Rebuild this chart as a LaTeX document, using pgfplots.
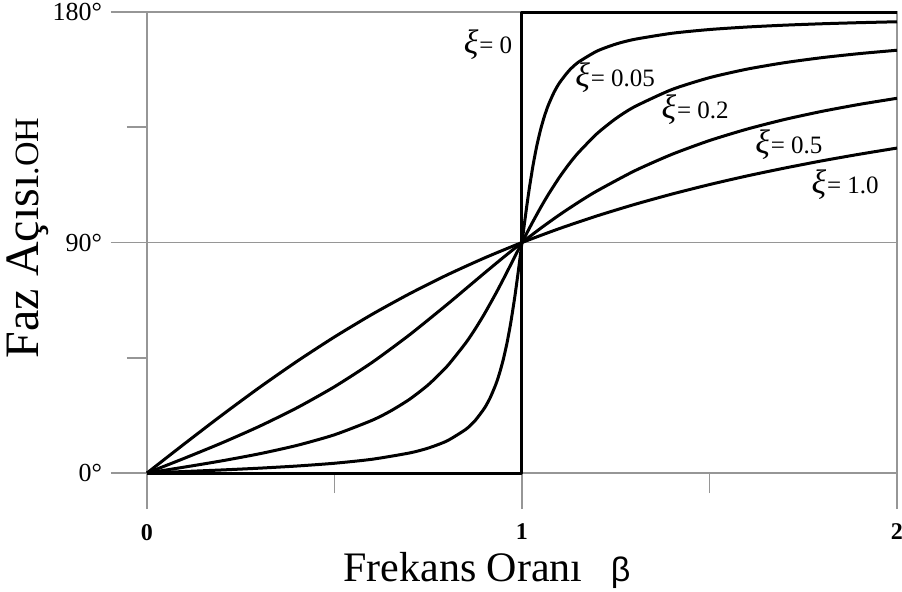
\documentclass[border=0pt]{standalone}
\usepackage{fontspec}
\setmainfont{Liberation Serif}
\newfontfamily\betafont{Liberation Sans}
\usepackage{pgfplots}
\pgfplotsset{compat=1.18}

\definecolor{gridgray}{RGB}{150,150,150}

% damping-ratio label: large italic xi followed by "= value"
\newcommand{\xilab}[1]{{\fontsize{17}{17}\selectfont\itshape ξ}\kern0.5pt{\fontsize{12.5}{12.5}\selectfont= #1}}

\tikzset{curve/.style={black, line width=1.5pt, line join=round, no marks}}

\begin{document}
\begin{tikzpicture}
\path[use as bounding box] (-73.5pt,-59pt) rectangle (377.5pt,236.5pt);
\begin{axis}[
  at={(0,0)}, anchor=origin,
  scale only axis, width=375pt, height=230.5pt,
  xmin=0, xmax=2, ymin=0, ymax=180,
  clip=false,
  axis line style={gridgray, line width=0.8pt},
  grid=major,
  major grid style={gridgray, line width=0.8pt},
  xtick={0,1,2}, xticklabels={0,1,2},
  ytick={0,90,180}, yticklabels={0°,90°,180°},
  minor xtick={0.5,1.5}, minor ytick={45,135},
  tick align=outside, tick pos=left,
  major tick length=18pt, minor tick length=10pt,
  every tick/.style={gridgray, line width=0.8pt},
  yticklabel style={font=\fontsize{13}{13}\selectfont, xshift=-1pt},
  xticklabel style={font=\fontsize{12}{12}\selectfont\bfseries, yshift=-4pt},
]
% xi = 0 (undamped): step at resonance
\addplot[curve] coordinates {(0,0) (1,0) (1,180) (2,180)};
% xi = 0.05
\addplot[curve, smooth, tension=0.4] coordinates {
(0,0) (0.1,0.58) (0.2,1.19) (0.3,1.89) (0.4,2.73) (0.5,3.81) (0.6,5.36)
(0.7,7.82) (0.75,9.73) (0.8,12.53) (0.85,17.03) (0.875,20.47) (0.9,25.35)
(0.915,29.34) (0.93,34.54) (0.94,38.92) (0.95,44.26)
(0.96,50.76) (0.97,58.65) (0.98,68.00) (0.985,73.18) (0.99,78.63) (0.995,84.28)
(1,90) (1.005,95.70) (1.01,101.26) (1.015,106.58) (1.02,111.61) (1.03,120.59)
(1.04,128.12) (1.05,134.31) (1.06,139.39) (1.07,143.56) (1.085,148.53)
(1.1,152.35) (1.125,157.05)
(1.15,160.37) (1.2,164.74) (1.25,167.47) (1.3,169.33) (1.4,171.70) (1.5,173.16)
(1.6,174.14) (1.7,174.86) (1.8,175.41) (1.9,175.84) (2,176.19)};
% xi = 0.2
\addplot[curve, smooth, tension=0.4] coordinates {
(0,0) (0.1,2.31) (0.2,4.76) (0.3,7.51) (0.4,10.78) (0.5,14.93) (0.6,20.56)
(0.65,24.24) (0.7,28.77) (0.75,34.44) (0.8,41.63) (0.85,50.78) (0.875,56.19)
(0.9,62.18) (0.93,70.04) (0.95,75.61)
(0.97,81.34) (0.98,84.23) (0.99,87.12) (1,90) (1.01,92.85) (1.02,95.65)
(1.03,98.41) (1.05,103.71) (1.07,108.70) (1.1,115.51) (1.125,120.56)
(1.15,125.03) (1.2,132.51) (1.25,138.37) (1.3,143.00) (1.4,149.75)
(1.5,154.36) (1.6,157.69) (1.7,160.21) (1.8,162.18) (1.9,163.76) (2,165.07)};
% xi = 0.5
\addplot[curve, smooth, tension=0.4] coordinates {
(0,0) (0.1,5.77) (0.2,11.77) (0.3,18.25) (0.4,25.46) (0.5,33.69) (0.6,43.15)
(0.7,53.94) (0.8,65.77) (0.85,71.92) (0.9,78.08) (0.95,84.14) (1,90)
(1.05,95.58) (1.1,100.81) (1.15,105.66) (1.2,110.14) (1.3,117.96) (1.4,124.44)
(1.5,129.81) (1.6,134.27) (1.7,138.03) (1.8,141.21) (1.9,143.94) (2,146.31)};
% xi = 1.0
\addplot[curve, smooth, tension=0.4] coordinates {
(0,0) (0.1,11.42) (0.2,22.62) (0.3,33.40) (0.4,43.60) (0.5,53.13) (0.6,61.93)
(0.7,69.98) (0.8,77.32) (0.9,83.97) (1,90) (1.1,95.45) (1.2,100.39)
(1.3,104.86) (1.4,108.92) (1.5,112.62) (1.6,115.99) (1.7,119.05) (1.8,121.89)
(1.9,124.48) (2,126.87)};

% curve labels
\node[anchor=east, inner sep=0pt] at (axis cs:0.975,167.1) {\xilab{0}};
\node[anchor=west, inner sep=0pt] at (axis cs:1.141,154.2) {\xilab{0.05}};
\node[anchor=west, inner sep=0pt] at (axis cs:1.371,141.7) {\xilab{0.2}};
\node[anchor=west, inner sep=0pt] at (axis cs:1.621,128.1) {\xilab{0.5}};
\node[anchor=west, inner sep=0pt] at (axis cs:1.771,112.5) {\xilab{1.0}};

% axis titles
\node[rotate=90, inner sep=0pt] at (rel axis cs:-0.159,0.51)
  {\fontsize{24}{24}\selectfont Faz Açısı{\fontsize{17}{17}\selectfont .OH}};
\node[anchor=base west, inner sep=0pt] at (rel axis cs:0.2613,-0.2364)
  {\fontsize{21}{21}\selectfont Frekans Oranı};
\node[anchor=base west, inner sep=0pt] at (rel axis cs:0.618,-0.2364)
  {\betafont\fontsize{17}{17}\selectfont β};
\end{axis}
\end{tikzpicture}
\end{document}
